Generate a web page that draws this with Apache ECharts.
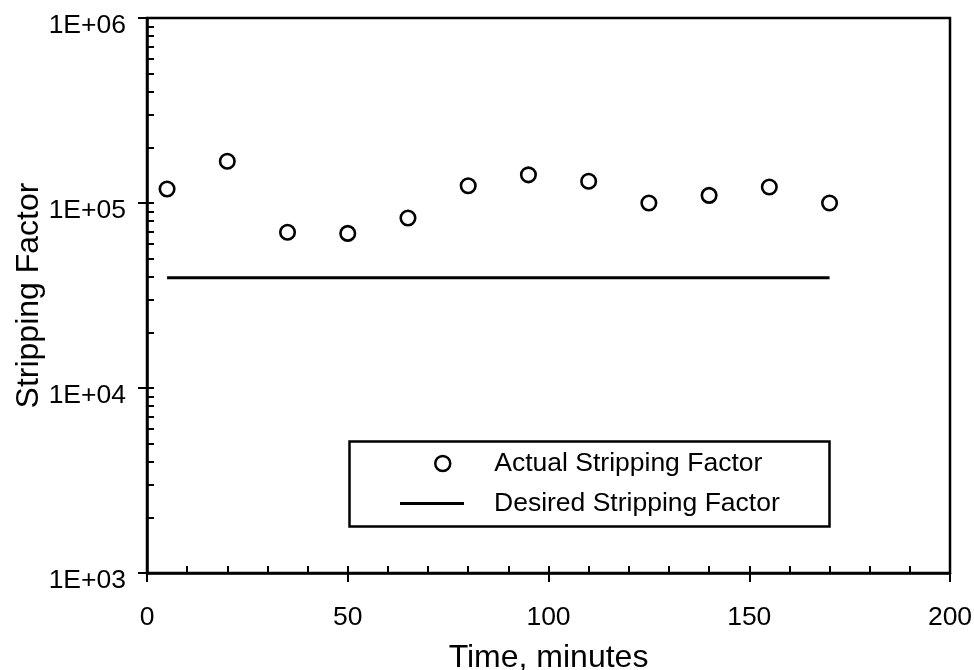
<!DOCTYPE html>
<html>
<head>
<meta charset="utf-8">
<script src="https://cdn.jsdelivr.net/npm/echarts@6/dist/echarts.min.js"></script>
<style>
html,body{margin:0;padding:0;background:#fff;}
#chart{width:974px;height:670px;}
</style>
</head>
<body>
<div id="chart"></div>
<script>
// ---- data ----
var timeMinutes = [5, 20, 35, 50, 65, 80, 95, 110, 125, 140, 155, 170];
var actualStripping = [119000, 168000, 69500, 68500, 83000, 124000, 142000, 131000, 100000, 110000, 122000, 100000];
var desiredTime = [5, 170];
var desiredStripping = [39500, 39500];
var xTickLabels = ['0', '50', '100', '150', '200'];
var yTickValues = [1000, 10000, 100000, 1000000];
var yTickLabels = ['1E+03', '1E+04', '1E+05', '1E+06'];
var yMinorTicks = [2000,3000,4000,5000,6000,7000,8000,9000,
                   20000,30000,40000,50000,60000,70000,80000,90000,
                   200000,300000,400000,500000,600000,700000,800000,900000];
var seriesNames = ['Actual Stripping Factor', 'Desired Stripping Factor'];

var FONT = "'Liberation Sans', Arial, Helvetica, sans-serif";

var actualData = timeMinutes.map(function (t, i) { return [t, actualStripping[i]]; });
var desiredData = desiredTime.map(function (t, i) { return [t, desiredStripping[i]]; });

var chart = echarts.init(document.getElementById('chart'), null, {renderer: 'canvas'});
var option = {
  backgroundColor: '#fff',
  animation: false,
  grid: {
    left: 147, right: 24, top: 18, bottom: 97,
    containLabel: false, outerBoundsMode: 'none',
    show: true, borderColor: '#000', borderWidth: 2.5, backgroundColor: 'transparent'
  },
  xAxis: [
    {
      type: 'value', min: 0, max: 200, interval: 50, position: 'bottom',
      name: 'Time, minutes', nameLocation: 'middle', nameGap: 69.5, nameMoveOverlap: false,
      nameTextStyle: {fontFamily: FONT, fontSize: 32, color: '#000', lineHeight: 32},
      axisLine: {show: true, onZero: false, lineStyle: {color: '#000', width: 2.5}},
      axisTick: {show: true, inside: false, length: 9, lineStyle: {color: '#000', width: 2}},
      axisLabel: {
        margin: 31, fontFamily: FONT, fontSize: 26.5, color: '#000', lineHeight: 27,
        formatter: function (v) { return xTickLabels[Math.round(v / 50)]; }
      },
      splitLine: {show: false}
    },
    {
      type: 'value', min: 0, max: 200, interval: 10, position: 'bottom',
      axisLine: {show: false, onZero: false},
      axisTick: {show: true, inside: true, length: 7, lineStyle: {color: '#000', width: 2}},
      axisLabel: {show: false},
      splitLine: {show: false}
    }
  ],
  yAxis: [
    {
      type: 'log', logBase: 10, min: 1000, max: 1000000, position: 'left',
      name: 'Stripping Factor', nameLocation: 'middle', nameGap: 101.5, nameRotate: 90,
      nameMoveOverlap: false,
      nameTextStyle: {fontFamily: FONT, fontSize: 32, color: '#000', lineHeight: 32},
      axisLine: {show: true, onZero: false, lineStyle: {color: '#000', width: 2.5}},
      axisTick: {show: true, inside: false, length: 9, lineStyle: {color: '#000', width: 2}},
      axisLabel: {
        margin: 21, color: '#000',
        formatter: function (v) {
          var idx = yTickValues.indexOf(Math.round(v));
          return idx >= 0 ? '{t|' + yTickLabels[idx] + '}' : '';
        },
        rich: {
          t: {fontFamily: FONT, fontSize: 26.5, color: '#000', lineHeight: 27, padding: [16, 0, 0, 0]}
        }
      },
      splitLine: {show: false}
    },
    {
      type: 'log', logBase: 10, min: 1000, max: 1000000, position: 'left',
      axisLine: {show: false, onZero: false},
      axisTick: {show: true, inside: true, length: 7, customValues: yTickValues.concat(yMinorTicks),
                 lineStyle: {color: '#000', width: 2}},
      axisLabel: {show: false},
      splitLine: {show: false}
    }
  ],
  legend: [
    {
      data: [{name: seriesNames[0], icon: 'circle'}],
      left: 434, top: 450, padding: 0,
      itemWidth: 15, itemHeight: 15,
      itemStyle: {color: '#fff', borderColor: '#000', borderWidth: 2.5},
      textStyle: {fontFamily: FONT, fontSize: 26.5, color: '#000', lineHeight: 27, padding: [0, 0, 0, 39]},
      selectedMode: false
    },
    {
      data: [{name: seriesNames[1], icon: 'rect'}],
      left: 400, top: 490, padding: 0,
      itemWidth: 64, itemHeight: 3,
      itemStyle: {color: '#000'},
      textStyle: {fontFamily: FONT, fontSize: 26.5, color: '#000', lineHeight: 27, padding: [0, 0, 0, 25]},
      selectedMode: false
    }
  ],
  graphic: [
    {
      type: 'rect', left: 347, top: 439, z: 100,
      shape: {width: 480, height: 85},
      style: {fill: 'none', stroke: '#000', lineWidth: 2.5}
    }
  ],
  series: [
    {
      name: seriesNames[0], type: 'scatter', xAxisIndex: 0, yAxisIndex: 0,
      data: actualData, symbol: 'circle', symbolSize: 14.5,
      itemStyle: {color: '#fff', borderColor: '#000', borderWidth: 2.6, opacity: 1},
      emphasis: {disabled: true}, z: 5
    },
    {
      name: seriesNames[1], type: 'line', xAxisIndex: 0, yAxisIndex: 0,
      data: desiredData, symbol: 'none', showSymbol: false,
      lineStyle: {color: '#000', width: 3},
      itemStyle: {color: '#000'},
      emphasis: {disabled: true}, z: 4
    }
  ]
};
chart.setOption(option);
</script>
</body>
</html>
